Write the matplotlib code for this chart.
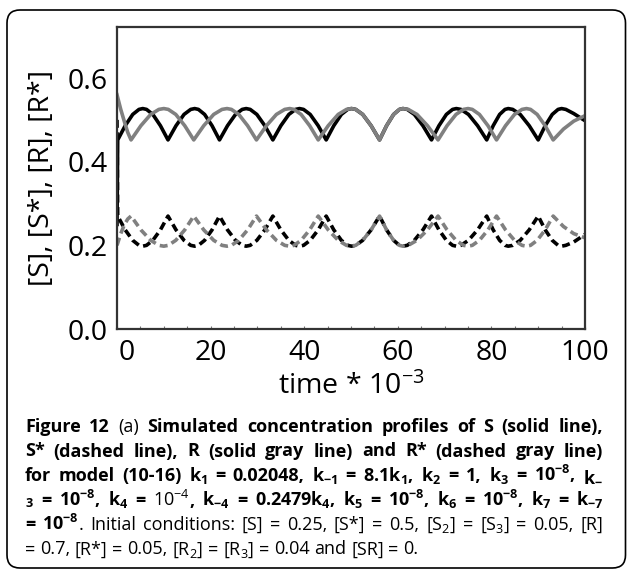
import re
import matplotlib
matplotlib.use("Agg")
import matplotlib.pyplot as plt
import matplotlib.transforms as mtransforms
from matplotlib.patches import FancyBboxPatch
from matplotlib.ticker import MultipleLocator

plt.rcParams["font.family"] = ["Open Sans", "DejaVu Sans"]
plt.rcParams.update({
    "mathtext.fontset": "custom",
    "mathtext.rm": "Open Sans",
    "mathtext.bf": "Open Sans:bold",
})

# time (x 10^3) for the black curves S and S*
t_black = [0, 0.15,
           1.75, 3.36, 4.7, 5.5, 6.31, 7.66, 9.28, 10.9,
           12.61, 14.32, 15.75, 16.6, 17.4, 18.72, 20.31, 21.9,
           23.61, 25.32, 26.75, 27.6, 28.46, 29.88, 31.59, 33.3,
           35.01, 36.72, 38.15, 39.0, 39.86, 41.28, 42.99, 44.7,
           46.32, 47.94, 49.29, 50.1, 51.0, 52.5, 54.3, 56.1,
           57.6, 59.1, 60.35, 61.1, 62.02, 63.54, 65.37, 67.2,
           68.79, 70.38, 71.71, 72.5, 73.48, 75.1, 77.05, 79.0,
           80.38, 81.76, 82.91, 83.6, 84.56, 86.16, 88.08, 90.0,
           91.5, 93.0, 94.25, 95.0, 95.9, 97.6, 100.0]
S = [0.25, 0.452,
     0.486, 0.513, 0.525, 0.527, 0.525, 0.513, 0.486, 0.452,
     0.486, 0.513, 0.525, 0.527, 0.525, 0.513, 0.486, 0.452,
     0.486, 0.513, 0.525, 0.527, 0.525, 0.513, 0.486, 0.452,
     0.486, 0.513, 0.525, 0.527, 0.525, 0.513, 0.486, 0.452,
     0.486, 0.513, 0.525, 0.527, 0.525, 0.513, 0.486, 0.452,
     0.486, 0.513, 0.525, 0.527, 0.525, 0.513, 0.486, 0.452,
     0.486, 0.513, 0.525, 0.527, 0.525, 0.513, 0.486, 0.452,
     0.486, 0.513, 0.525, 0.527, 0.525, 0.513, 0.486, 0.452,
     0.486, 0.513, 0.525, 0.527, 0.525, 0.515, 0.498]
S_star = [0.50, 0.270,
          0.237, 0.212, 0.200, 0.198, 0.200, 0.212, 0.237, 0.270,
          0.237, 0.212, 0.200, 0.198, 0.200, 0.212, 0.237, 0.270,
          0.237, 0.212, 0.200, 0.198, 0.200, 0.212, 0.237, 0.270,
          0.237, 0.212, 0.200, 0.198, 0.200, 0.212, 0.237, 0.270,
          0.237, 0.212, 0.200, 0.198, 0.200, 0.212, 0.237, 0.270,
          0.237, 0.212, 0.200, 0.198, 0.200, 0.212, 0.237, 0.270,
          0.237, 0.212, 0.200, 0.198, 0.200, 0.212, 0.237, 0.270,
          0.237, 0.212, 0.200, 0.198, 0.200, 0.212, 0.237, 0.270,
          0.237, 0.212, 0.200, 0.198, 0.200, 0.208, 0.226]

# time (x 10^3) for the gray curves R and R*
t_gray = [0, 0.8, 1.6, 2.3, 3.0,
          5.1, 7.2, 8.95, 10.0, 10.96, 12.56, 14.48, 16.4,
          18.53, 20.66, 22.44, 23.5, 24.45, 26.02, 27.91, 29.8,
          31.93, 34.06, 35.84, 36.9, 37.82, 39.34, 41.17, 43.0,
          45.13, 47.26, 49.04, 50.1, 51.0, 52.5, 54.3, 56.1,
          57.6, 59.1, 60.35, 61.1, 62.23, 64.1, 66.35, 68.6,
          70.52, 72.44, 74.04, 75.0, 75.92, 77.44, 79.27, 81.1,
          83.02, 84.94, 86.54, 87.5, 88.36, 89.78, 91.49, 93.2,
          95.4, 97.6, 100.0]
R = [0.56, 0.525, 0.495, 0.470, 0.452,
     0.486, 0.513, 0.525, 0.527, 0.525, 0.513, 0.486, 0.452,
     0.486, 0.513, 0.525, 0.527, 0.525, 0.513, 0.486, 0.452,
     0.486, 0.513, 0.525, 0.527, 0.525, 0.513, 0.486, 0.452,
     0.486, 0.513, 0.525, 0.527, 0.525, 0.513, 0.486, 0.452,
     0.486, 0.513, 0.525, 0.527, 0.525, 0.513, 0.486, 0.452,
     0.486, 0.513, 0.525, 0.527, 0.525, 0.513, 0.486, 0.452,
     0.486, 0.513, 0.525, 0.527, 0.525, 0.513, 0.486, 0.452,
     0.478, 0.497, 0.510]
R_star = [0.200, 0.228, 0.250, 0.263, 0.270,
          0.237, 0.212, 0.200, 0.198, 0.200, 0.212, 0.237, 0.270,
          0.237, 0.212, 0.200, 0.198, 0.200, 0.212, 0.237, 0.270,
          0.237, 0.212, 0.200, 0.198, 0.200, 0.212, 0.237, 0.270,
          0.237, 0.212, 0.200, 0.198, 0.200, 0.212, 0.237, 0.270,
          0.237, 0.212, 0.200, 0.198, 0.200, 0.212, 0.237, 0.270,
          0.237, 0.212, 0.200, 0.198, 0.200, 0.212, 0.237, 0.270,
          0.237, 0.212, 0.200, 0.198, 0.200, 0.212, 0.237, 0.270,
          0.245, 0.228, 0.218]

x_ticks = [0, 20, 40, 60, 80, 100]
y_ticks = [0.0, 0.2, 0.4, 0.6]
y_label = "[S], [S*], [R], [R*]"
x_label = r"time * $\mathrm{10^{-3}}$"

# caption, one entry per printed line; "§" toggles bold on/off
caption = [
    "§Figure 12§ (a) §Simulated concentration profiles of S (solid line),",
    "S* (dashed line), R (solid gray line) and R* (dashed gray line)",
    "for model (10-16) $k_1$ = 0.02048, $k_{-1}$ = 8.1$k_1$, $k_2$ = 1, $k_3$ = $10^{-8}$, $k_{-}$",
    "${}_3$ = $10^{-8}$, $k_4$ = §$10^{-4}$§, $k_{-4}$ = 0.2479$k_4$, $k_5$ = $10^{-8}$, $k_6$ = $10^{-8}$, $k_7$ = $k_{-7}$",
    "= $10^{-8}$§. Initial conditions: [S] = 0.25, [S*] = 0.5, [$S_2$] = [$S_3$] = 0.05, [R]",
    "= 0.7, [R*] = 0.05, [$R_2$] = [$R_3$] = 0.04 and [SR] = 0.",
]

W, H = 627, 570
fig = plt.figure(figsize=(W / 100, H / 100), dpi=100)
ax = fig.add_axes([117 / W, 1 - 329 / H, 468 / W, 302 / H])

dash = (2.2, 1.25)
ax.plot(t_black, S, color="black", lw=2.6)
ax.plot(t_black, S_star, color="black", lw=2.6, dashes=dash)
ax.plot(t_gray, R, color="0.5", lw=2.6)
ax.plot(t_gray, R_star, color="0.5", lw=2.6, dashes=dash)

ax.set_xlim(0, 100)
ax.set_ylim(0, 0.722)
ax.set_xticks(x_ticks)
ax.set_yticks(y_ticks)
ax.set_yticklabels([f"{v:.1f}" for v in y_ticks])
ax.xaxis.set_minor_locator(MultipleLocator(5))
ax.tick_params(axis="x", which="both", direction="in", length=2.5, width=0.8,
               color="0.45", labelsize=20.5, pad=7)
ax.tick_params(axis="y", length=0, labelsize=20.5, pad=6.5)
for sp in ax.spines.values():
    sp.set_linewidth(1.6)
    sp.set_color("0.2")

# the "0" label sits a little right of its tick in the original
lab0 = ax.xaxis.get_major_ticks()[0].label1
lab0.set_transform(lab0.get_transform() + mtransforms.ScaledTranslation(0.10, 0, fig.dpi_scale_trans))

fig.text(42 / W, 1 - 178 / H, y_label, rotation=90, ha="center", va="center", fontsize=20.5)
fig.text(351 / W, 1 - 394.5 / H, x_label, ha="center", va="baseline", fontsize=20.5)

# rounded frame around figure + caption
frame = FancyBboxPatch((0.07, 0.02), 6.185, 5.58, boxstyle="round,pad=0,rounding_size=0.13",
                       transform=fig.dpi_scale_trans, fill=False, lw=1.2, ec="black")
fig.add_artist(frame)

# caption, justified word by word
renderer = fig.canvas.get_renderer()
cap_fs = 13
baselines = [432, 456.5, 481, 505.5, 530, 554.5]
left, right = 25, 603
space = 0.26 * cap_fs * 100 / 72
bold = False
for i, line in enumerate(caption):
    y = 1 - baselines[i] / H
    words = []
    for word in line.split(" "):
        pieces = []
        for j, part in enumerate(word.split("§")):
            if j > 0:
                bold = not bold
            if not part:
                continue
            cmd = "mathbf" if bold else "mathrm"
            part = re.sub(r"\$(.+?)\$", lambda m: "$\\" + cmd + "{" + m.group(1) + "}$", part)
            t = fig.text(0, y, part, fontsize=cap_fs, fontweight="bold" if bold else "normal",
                         va="baseline", ha="left")
            pieces.append((t, t.get_window_extent(renderer).width))
        words.append(pieces)
    total = sum(w for pieces in words for _, w in pieces)
    if i < len(caption) - 1 and len(words) > 1:
        gap = max((right - left - total) / (len(words) - 1), 0.6 * space)
    else:
        gap = space
    x = left
    for pieces in words:
        for t, w in pieces:
            t.set_x(x / W)
            x += w
        x += gap

fig.savefig("out.png", dpi=100)
